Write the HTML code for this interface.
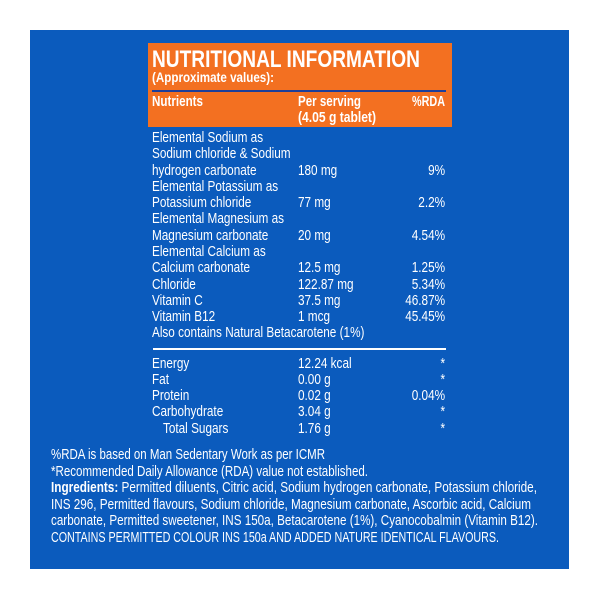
<!DOCTYPE html>
<html><head><meta charset="utf-8"><style>
html,body{margin:0;padding:0;background:#fff;}
svg{display:block;}
text{font-family:"Liberation Sans",Arial,sans-serif;fill:#fff;}
</style></head><body>
<svg width="600" height="600" viewBox="0 0 600 600" xmlns="http://www.w3.org/2000/svg">
<rect x="0" y="0" width="600" height="600" fill="#fff"/>
<rect x="30" y="30" width="539" height="539" fill="#0b5bbd"/>
<rect x="148" y="43" width="304" height="84" fill="#f37021"/>
<text x="152" y="67" font-size="24" font-weight="bold" textLength="268" lengthAdjust="spacingAndGlyphs">NUTRITIONAL INFORMATION</text>
<text x="152" y="82" font-size="14" font-weight="bold" textLength="122" lengthAdjust="spacingAndGlyphs">(Approximate values):</text>
<rect x="152" y="90" width="294" height="2" fill="#1d3f9a"/>
<text x="152" y="106" font-size="14.5" font-weight="bold" textLength="51" lengthAdjust="spacingAndGlyphs">Nutrients</text>
<text x="298" y="106" font-size="14.5" font-weight="bold" textLength="63" lengthAdjust="spacingAndGlyphs">Per serving</text>
<text x="298" y="122" font-size="14.5" font-weight="bold" textLength="78" lengthAdjust="spacingAndGlyphs">(4.05 g tablet)</text>
<text x="412" y="106" font-size="14.5" font-weight="bold" textLength="33" lengthAdjust="spacingAndGlyphs">%RDA</text>

<g transform="scale(0.785,1)" font-size="15">
<text x="193.6" y="142">Elemental Sodium as</text>
<text x="193.6" y="158">Sodium chloride &amp; Sodium</text>
<text x="193.6" y="175">hydrogen carbonate</text><text x="379.6" y="175">180 mg</text><text x="567" y="175" text-anchor="end">9%</text>
<text x="193.6" y="191">Elemental Potassium as</text>
<text x="193.6" y="207">Potassium chloride</text><text x="379.6" y="207">77 mg</text><text x="567" y="207" text-anchor="end">2.2%</text>
<text x="193.6" y="223">Elemental Magnesium as</text>
<text x="193.6" y="240">Magnesium carbonate</text><text x="379.6" y="240">20 mg</text><text x="567" y="240" text-anchor="end">4.54%</text>
<text x="193.6" y="256">Elemental Calcium as</text>
<text x="193.6" y="272">Calcium carbonate</text><text x="379.6" y="272">12.5 mg</text><text x="567" y="272" text-anchor="end">1.25%</text>
<text x="193.6" y="289">Chloride</text><text x="379.6" y="289">122.87 mg</text><text x="567" y="289" text-anchor="end">5.34%</text>
<text x="193.6" y="305">Vitamin C</text><text x="379.6" y="305">37.5 mg</text><text x="567" y="305" text-anchor="end">46.87%</text>
<text x="193.6" y="321">Vitamin B12</text><text x="379.6" y="321">1 mcg</text><text x="567" y="321" text-anchor="end">45.45%</text>
<text x="193.6" y="337">Also contains Natural Betacarotene (1%)</text>

<text x="193.6" y="368">Energy</text><text x="379.6" y="368">12.24 kcal</text><text x="567" y="368" text-anchor="end">*</text>
<text x="193.6" y="384">Fat</text><text x="379.6" y="384">0.00 g</text><text x="567" y="384" text-anchor="end">*</text>
<text x="193.6" y="400">Protein</text><text x="379.6" y="400">0.02 g</text><text x="567" y="400" text-anchor="end">0.04%</text>
<text x="193.6" y="416">Carbohydrate</text><text x="379.6" y="416">3.04 g</text><text x="567" y="416" text-anchor="end">*</text>
<text x="207.6" y="433">Total Sugars</text><text x="379.6" y="433">1.76 g</text><text x="567" y="433" text-anchor="end">*</text>
</g>
<rect x="153" y="348" width="293" height="2" fill="#fff"/>

<g font-size="15">
<text x="51" y="459" textLength="274" lengthAdjust="spacingAndGlyphs">%RDA is based on Man Sedentary Work as per ICMR</text>
<text x="51" y="476" textLength="317" lengthAdjust="spacingAndGlyphs">*Recommended Daily Allowance (RDA) value not established.</text>
<text x="51" y="492" textLength="486" lengthAdjust="spacingAndGlyphs"><tspan font-weight="bold">Ingredients:</tspan> Permitted diluents, Citric acid, Sodium hydrogen carbonate, Potassium chloride,</text>
<text x="51" y="509" textLength="480" lengthAdjust="spacingAndGlyphs">INS 296, Permitted flavours, Sodium chloride, Magnesium carbonate, Ascorbic acid, Calcium</text>
<text x="51" y="525" textLength="487" lengthAdjust="spacingAndGlyphs">carbonate, Permitted sweetener, INS 150a, Betacarotene (1%), Cyanocobalmin (Vitamin B12).</text>
<text x="51" y="542" textLength="448" lengthAdjust="spacingAndGlyphs">CONTAINS PERMITTED COLOUR INS 150a AND ADDED NATURE IDENTICAL FLAVOURS.</text>
</g>
</svg>
</body></html>
